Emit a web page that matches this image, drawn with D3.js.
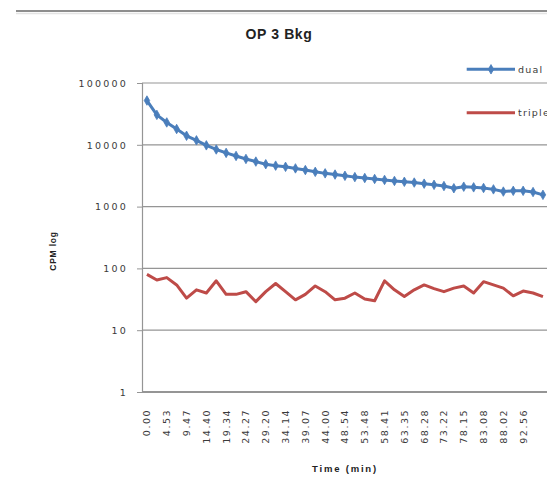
<!DOCTYPE html>
<html>
<head>
<meta charset="utf-8">
<script src="https://cdn.jsdelivr.net/npm/d3@7"></script>
<style>
  html, body { margin: 0; padding: 0; background: #fff; overflow: hidden; }
  svg { display: block; }
</style>
</head>
<body>
<svg id="chart" width="547" height="477"></svg>
<script>
// ---- data ----
const categories = [
  "0.00","2.27","4.53","7.20","9.47","12.13","14.40","17.07","19.34","22.00",
  "24.27","26.54","29.20","31.47","34.14","36.40","39.07","41.34","44.00","46.27",
  "48.54","51.21","53.48","56.14","58.41","61.08","63.35","66.01","68.28","70.55",
  "73.22","75.48","78.15","80.42","83.08","85.35","88.02","90.29","92.56","95.22","97.49"
];
const tickLabels = [
  "0.00","4.53","9.47","14.40","19.34","24.27","29.20","34.14","39.07","44.00",
  "48.54","53.48","58.41","63.35","68.28","73.22","78.15","83.08","88.02","92.56"
];
const dual = [
  52000,30500,23000,18000,14000,11800,9800,8400,7400,6600,
  5900,5350,4850,4600,4400,4150,3900,3650,3450,3300,
  3150,3000,2900,2800,2700,2600,2520,2450,2350,2250,
  2150,1980,2100,2050,2000,1900,1750,1800,1800,1720,1550
];
const triple = [
  80,65,71,54,33,45,40,63,38,38,
  42,29,42,57,42,31,38,52,42,31,
  33,40,32,30,63,45,35,45,54,47,
  42,48,52,40,61,54,48,36,43,40,35
];
const yTicks = [1,10,100,1000,10000,100000];
const seriesNames = ["dual","triple"];

// ---- layout ----
const svg = d3.select("#chart");
const plotLeft = 142, plotTop = 83, plotBottom = 392, slot = 9.9;
const plotRight = plotLeft + categories.length * slot;
const blue = "#4A7EBB", red = "#BE4B48";
const tickFont = "DejaVu Sans, sans-serif";

svg.append("rect").attr("width",547).attr("height",477).attr("fill","#fff");
// top border of chart area
svg.append("line").attr("x1",16).attr("x2",547).attr("y1",11).attr("y2",11)
  .attr("stroke","#8e8e8e").attr("stroke-width",2);
svg.append("line").attr("x1",16).attr("x2",547).attr("y1",13.5).attr("y2",13.5)
  .attr("stroke","#e4e4e4").attr("stroke-width",1.5);

const x = d3.scaleBand().domain(categories).range([plotLeft, plotRight]).padding(0);
const px = c => x(c) + x.bandwidth() / 2;
const y = d3.scaleLog().domain([1, 100000]).range([plotBottom, plotTop]);

// gridlines
svg.append("g").selectAll("line").data(yTicks.slice(1)).join("line")
  .attr("x1", plotLeft).attr("x2", 547)
  .attr("y1", d => y(d)).attr("y2", d => y(d))
  .attr("stroke", "#959595").attr("stroke-width", 1.2);

// y axis
const yAxis = d3.axisLeft(y).tickValues(yTicks).tickFormat(d3.format("d"))
  .tickSize(5).tickPadding(9);
const gy = svg.append("g").attr("transform", `translate(${plotLeft},0)`).call(yAxis);
gy.select(".domain").attr("stroke", "#959595").attr("stroke-width", 1.2);
gy.selectAll(".tick line").attr("stroke", "#959595");
gy.selectAll(".tick text").attr("font-family", tickFont).attr("font-size", 9.5)
  .attr("letter-spacing", 2.2).attr("fill", "#3a3a3a").attr("dy", "0.35em");

// x axis line
svg.append("line").attr("x1", plotLeft).attr("x2", 547).attr("y1", plotBottom).attr("y2", plotBottom)
  .attr("stroke", "#959595").attr("stroke-width", 2);

// x tick labels (every other category)
svg.append("g").selectAll("text").data(tickLabels).join("text")
  .attr("transform", d => `translate(${px(d) + 3.5},409) rotate(-90)`)
  .attr("text-anchor", "end")
  .attr("font-family", tickFont).attr("font-size", 9.5)
  .attr("letter-spacing", 1.5).attr("fill", "#3a3a3a")
  .text(d => d);

// lines
const line = d3.line().x((d, i) => px(categories[i])).y(d => y(d));
svg.append("path").datum(triple).attr("d", line)
  .attr("fill", "none").attr("stroke", red).attr("stroke-width", 3)
  .attr("stroke-linejoin", "round");
svg.append("path").datum(dual).attr("d", line)
  .attr("fill", "none").attr("stroke", blue).attr("stroke-width", 3)
  .attr("stroke-linejoin", "round");
const diamond = d3.symbol().type(d3.symbolDiamond).size(26);
svg.append("g").selectAll("path").data(dual).join("path")
  .attr("transform", (d, i) => `translate(${px(categories[i])},${y(d)})`)
  .attr("d", diamond).attr("fill", blue).attr("stroke", blue).attr("stroke-width", 0.8);

// title
svg.append("text").attr("x", 279).attr("y", 39).attr("text-anchor", "middle")
  .attr("font-family", "Liberation Sans, Arial, sans-serif").attr("font-weight", "bold")
  .attr("font-size", 14).attr("letter-spacing", 0.6).attr("fill", "#222").text("OP 3 Bkg");

// axis titles
svg.append("text").attr("transform", "translate(56,251) rotate(-90)").attr("text-anchor", "middle")
  .attr("font-family", "Liberation Sans, Arial, sans-serif").attr("font-weight", "bold")
  .attr("font-size", 8.5).attr("letter-spacing", 0.8).attr("fill", "#222").text("CPM log");
svg.append("text").attr("x", 345).attr("y", 472).attr("text-anchor", "middle")
  .attr("font-family", "Liberation Sans, Arial, sans-serif").attr("font-weight", "bold")
  .attr("font-size", 9.5).attr("letter-spacing", 1.8).attr("fill", "#222").text("Time (min)");

// legend
const legY = [69.3, 112.7];
const legColors = [blue, red];
const leg = svg.append("g");
seriesNames.forEach((name, i) => {
  leg.append("line").attr("x1", 466.7).attr("x2", 515).attr("y1", legY[i]).attr("y2", legY[i])
    .attr("stroke", legColors[i]).attr("stroke-width", 3);
  if (i === 0) {
    leg.append("path").attr("transform", `translate(491,${legY[i]})`)
      .attr("d", diamond).attr("fill", blue).attr("stroke", blue).attr("stroke-width", 0.8);
  }
  leg.append("text").attr("x", 518).attr("y", legY[i] + 3.5)
    .attr("font-family", tickFont).attr("font-size", 9.5).attr("letter-spacing", 1.2)
    .attr("fill", "#3a3a3a").text(name);
});
</script>
</body>
</html>
